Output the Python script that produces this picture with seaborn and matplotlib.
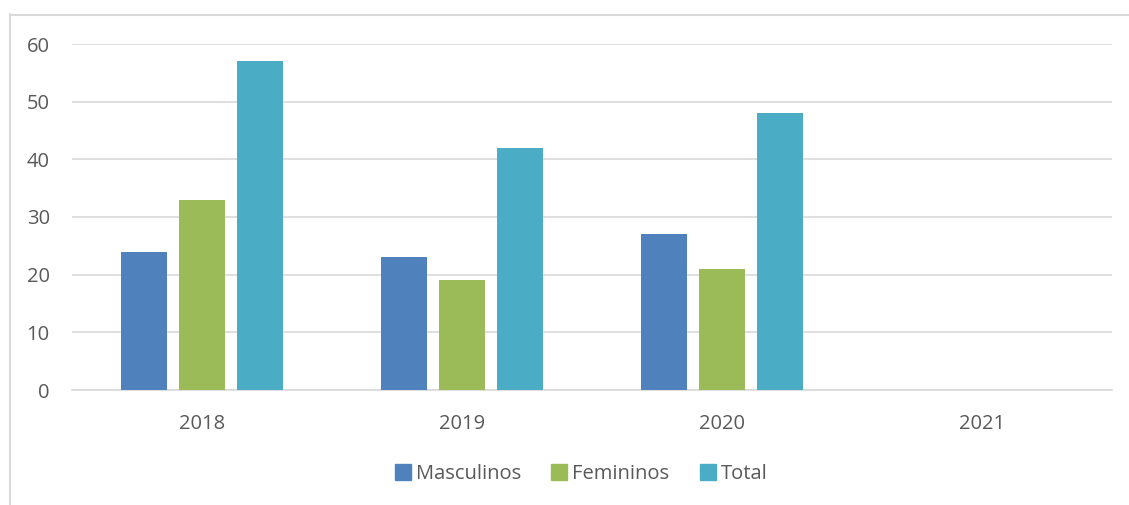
import pandas as pd
import numpy as np
import seaborn as sns
import matplotlib.pyplot as plt
from matplotlib.lines import Line2D

# Data
years = ['2018', '2019', '2020', '2021']
masculinos = [24, 23, 27, 0]
femininos = [33, 19, 21, 0]
total = [57, 42, 48, 0]
series_names = ['Masculinos', 'Femininos', 'Total']
yticks = [0, 10, 20, 30, 40, 50, 60]

df = pd.DataFrame({'ano': years, 'Masculinos': masculinos,
                   'Femininos': femininos, 'Total': total})
df_long = pd.melt(df, id_vars='ano', var_name='serie', value_name='valor')

pal = ['#4F81BD', '#9BBB59', '#4BACC6']
txt = '#595959'
grid = '#d9d9d9'

sns.set_style('white')
plt.rcParams['font.family'] = ['Open Sans', 'DejaVu Sans']

fig = plt.figure(figsize=(11.29, 5.05), dpi=100)
ax = fig.add_axes([72 / 1129, 1 - 390 / 505, (1112 - 72) / 1129, (390 - 44) / 505])

sns.barplot(data=df_long, x='ano', y='valor', hue='serie',
            hue_order=series_names, palette=pal, errorbar=None,
            saturation=1, width=0.67, gap=0.2, linewidth=0,
            ax=ax, zorder=3)

ax.set_ylim(0, 60)
ax.set_yticks(yticks)
ax.yaxis.grid(True, color=grid, linewidth=1.2, zorder=0)
ax.set_axisbelow(True)
ax.set_xlabel('')
ax.set_ylabel('')
for s in ['top', 'right', 'left']:
    ax.spines[s].set_visible(False)
ax.spines['bottom'].set_color(grid)
ax.spines['bottom'].set_linewidth(1.2)
ax.tick_params(axis='both', length=0, labelsize=14.5, colors=txt)
ax.tick_params(axis='y', pad=16)
ax.tick_params(axis='x', pad=17)

ax.get_legend().remove()
handles = [Line2D([0], [0], marker='s', linestyle='', markersize=12,
                  markerfacecolor=c, markeredgecolor=c) for c in pal]
leg = fig.legend(handles, series_names, loc='center', ncol=3,
                 bbox_to_anchor=(580 / 1129, 1 - 474 / 505), frameon=False,
                 fontsize=14.5, handletextpad=0.15, columnspacing=1.4,
                 handlelength=1.0)
for t in leg.get_texts():
    t.set_color(txt)

# chart frame (only left and top edges visible in the crop)
fig.add_artist(Line2D([9.5 / 1129, 9.5 / 1129], [1 - 14 / 505, 0],
                      transform=fig.transFigure, color=grid, linewidth=1.5))
fig.add_artist(Line2D([9.5 / 1129, 1], [1 - 14.5 / 505, 1 - 14.5 / 505],
                      transform=fig.transFigure, color=grid, linewidth=1.5))

plt.savefig('out.png', dpi=100)
